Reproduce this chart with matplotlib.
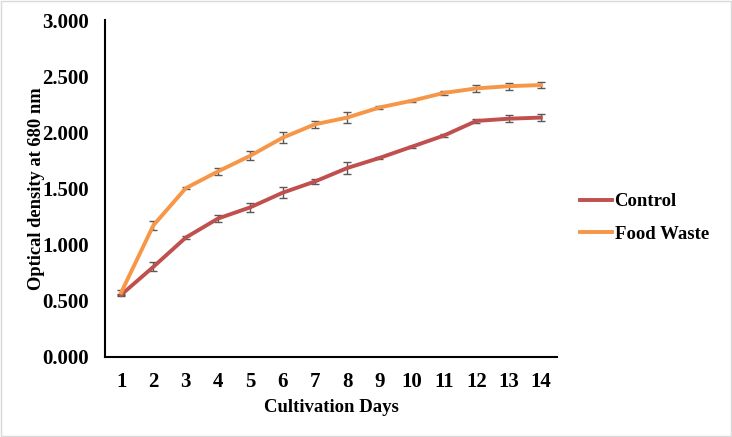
import numpy as np
import matplotlib.pyplot as plt

# Datos
days = list(range(1, 15))
control = [0.55, 0.80, 1.06, 1.23, 1.33, 1.46, 1.56, 1.68, 1.77, 1.87, 1.97, 2.10, 2.12, 2.13]
control_err = [0.01, 0.04, 0.01, 0.03, 0.04, 0.05, 0.02, 0.05, 0.01, 0.01, 0.01, 0.02, 0.03, 0.03]
food_waste = [0.57, 1.17, 1.50, 1.65, 1.79, 1.95, 2.07, 2.13, 2.22, 2.28, 2.35, 2.39, 2.41, 2.42]
food_err = [0.02, 0.04, 0.01, 0.03, 0.04, 0.05, 0.03, 0.05, 0.01, 0.01, 0.02, 0.03, 0.03, 0.03]
y_ticks = [0.0, 0.5, 1.0, 1.5, 2.0, 2.5, 3.0]

plt.rcParams['font.family'] = ['Liberation Serif', 'DejaVu Serif']
plt.rcParams['font.weight'] = 'bold'

fig = plt.figure(figsize=(7.32, 4.37), dpi=100)
ax = fig.add_axes([105 / 732, 1 - 356.5 / 437, (557 - 105) / 732, (356.5 - 20) / 437])

err_kw = dict(ecolor='#595959', elinewidth=1, capsize=3, capthick=1)
ax.errorbar(days, control, yerr=control_err, color='#C0504D', lw=2.8, label='Control', **err_kw)
ax.errorbar(days, food_waste, yerr=food_err, color='#F79646', lw=2.8, label='Food Waste', **err_kw)

ax.set_xlim(0.5, 14.5)
ax.set_ylim(0, 3.0)
ax.set_xticks(days)
ax.set_yticks(y_ticks)
ax.set_yticklabels([f"{v:.3f}" for v in y_ticks])
ax.tick_params(length=0, labelsize=15)
ax.tick_params(axis='x', pad=11)
ax.tick_params(axis='y', pad=11.5)

for side in ['top', 'right']:
    ax.spines[side].set_visible(False)
for side in ['left', 'bottom']:
    ax.spines[side].set_linewidth(1.5)
    ax.spines[side].set_color('black')

ax.set_xlabel("Cultivation Days", fontsize=13.5, fontweight='bold', labelpad=5)
ax.set_ylabel("Optical density at 680 nm", fontsize=13.3, fontweight='bold', labelpad=-2)

handles, labels = ax.get_legend_handles_labels()
handles = [h[0] for h in handles]
leg = fig.legend(handles, labels, loc='center left', bbox_to_anchor=(563 / 732, 1 - 218 / 437),
                 frameon=False, fontsize=13.5, handlelength=1.7, labelspacing=0.8, handletextpad=0.15)

# borde gris alrededor de la figura
fig.patches.append(plt.Rectangle((0.001, 0.002), 0.997, 0.996, transform=fig.transFigure,
                                 fill=False, edgecolor='#D9D9D9', lw=1))

plt.savefig("out.png", dpi=100)
